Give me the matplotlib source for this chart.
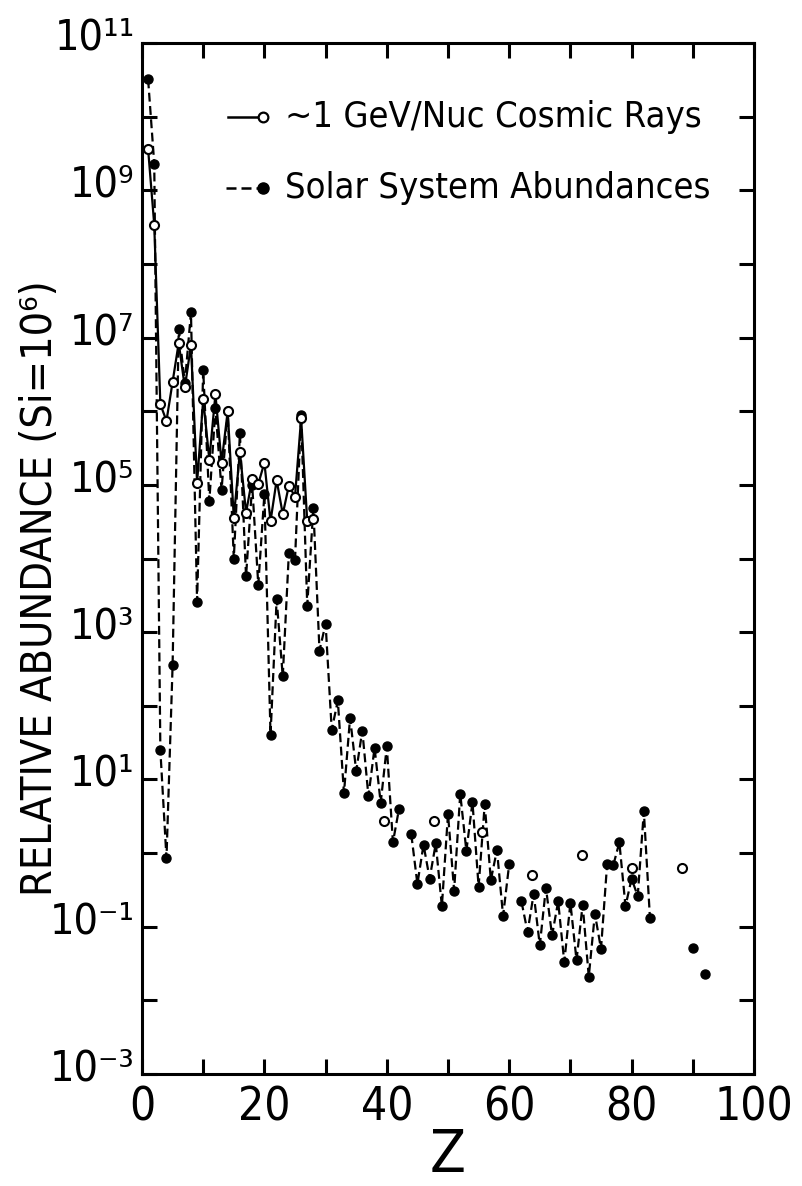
import numpy as np
import matplotlib
matplotlib.use("Agg")
import matplotlib.pyplot as plt
import matplotlib.transforms as mtransforms
from matplotlib.ticker import FixedLocator, NullFormatter

plt.rcParams["font.family"] = ["DejaVu Sans"]
plt.rcParams["font.stretch"] = "condensed"

# ---------------- data ----------------
# Solar system abundances (Si = 1e6), filled circles, dashed line
solar_z = [1, 2, 3, 4, 5, 6, 7, 8, 9, 10, 11, 12, 13, 14, 15, 16, 17, 18, 19, 20,
           21, 22, 23, 24, 25, 26, 27, 28, 29, 30, 31, 32, 33, 34, 35, 36, 37, 38, 39, 40,
           41, 42, 44, 45, 46, 47, 48, 49, 50, 51, 52, 53, 54, 55, 56, 57, 58, 59, 60,
           62, 63, 64, 65, 66, 67, 68, 69, 70, 71, 72, 73, 74, 75, 76, 77, 78, 79, 80,
           81, 82, 83, 90, 92]
solar_abund = [3.2e10, 2.3e9, 25, 0.85, 355, 1.3e7, 2.4e6, 2.2e7, 2.6e3, 3.6e6,
               6.0e4, 1.1e6, 8.5e4, 1.0e6, 1.0e4, 5.0e5, 5.7e3, 1.0e5, 4.4e3, 7.5e4,
               40, 2.8e3, 250, 1.2e4, 9.5e3, 8.9e5, 2.3e3, 4.8e4, 560, 1.3e3,
               47, 118, 6.5, 69, 13, 46, 5.9, 27, 4.8, 28,
               1.4, 4.0, 1.8, 0.38, 1.3, 0.45, 1.35, 0.19, 3.4, 0.31,
               6.4, 1.07, 4.9, 0.35, 4.6, 0.43, 1.1, 0.14, 0.71,
               0.22, 0.085, 0.28, 0.056, 0.34, 0.076, 0.22, 0.033, 0.21, 0.035,
               0.20, 0.021, 0.15, 0.05, 0.71, 0.68, 1.4, 0.19, 0.45,
               0.26, 3.7, 0.13, 0.051, 0.023]

# ~1 GeV/nucleon cosmic rays, open circles, solid line
cr_z = list(range(1, 29))
cr_abund = [3.6e9, 3.4e8, 1.24e6, 7.4e5, 2.5e6, 8.5e6, 2.1e6, 7.9e6, 1.07e5, 1.45e6,
            2.2e5, 1.7e6, 2.0e5, 1.0e6, 3.6e4, 2.8e5, 4.2e4, 1.2e5, 1.03e5, 2.0e5,
            3.2e4, 1.16e5, 4.0e4, 9.8e4, 6.9e4, 8.0e5, 3.2e4, 3.4e4]

# heavy cosmic-ray charge groups (isolated open circles)
cr_heavy_z = [39.5, 47.7, 55.6, 63.7, 71.9, 80.0, 88.2]
cr_heavy_abund = [2.7, 2.7, 1.96, 0.5, 0.95, 0.63, 0.62]

x_ticks = [0, 10, 20, 30, 40, 50, 60, 70, 80, 90, 100]
x_tick_labels = ["0", "", "20", "", "40", "", "60", "", "80", "", "100"]
y_exponents = [-3, -2, -1, 0, 1, 2, 3, 4, 5, 6, 7, 8, 9, 10, 11]
y_label_texts = {11: "10¹¹", 9: "10⁹", 7: "10⁷", 5: "10⁵", 3: "10³",
                 1: "10¹", -1: "10⁻¹", -3: "10⁻³"}

# ---------------- build series with gaps ----------------
def with_gaps(z, v):
    zz, vv = [], []
    for i, (a, b) in enumerate(zip(z, v)):
        if i > 0 and a - z[i - 1] > 1:
            zz.append(np.nan)
            vv.append(np.nan)
        zz.append(a)
        vv.append(b)
    return np.array(zz, float), np.array(vv, float)

sz, sv = with_gaps(solar_z, solar_abund)

# ---------------- figure ----------------
fig = plt.figure(figsize=(8.03, 11.86), dpi=100)
ax = fig.add_axes([142 / 803, 1 - 1074 / 1186, 612 / 803, 1031 / 1186])

ax.plot(sz, sv, ls=(0, (4, 2)), color="black", lw=1.6, marker="o", ms=6.5,
        mfc="black", mec="black", zorder=3)
ax.plot(cr_z, cr_abund, ls="-", color="black", lw=1.6, marker="o", ms=6.5,
        mfc="white", mec="black", mew=1.5, zorder=4)
ax.plot(cr_heavy_z, cr_heavy_abund, ls="none", marker="o", ms=6.5,
        mfc="white", mec="black", mew=1.5, zorder=4)

ax.set_yscale("log")
ax.set_xlim(0, 100)
ax.set_ylim(1e-3, 1e11)

ax.xaxis.set_major_locator(FixedLocator(x_ticks))
ax.set_xticklabels(x_tick_labels)
ax.yaxis.set_major_locator(FixedLocator([10.0 ** e for e in y_exponents]))
ax.yaxis.set_minor_locator(FixedLocator([]))
ax.yaxis.set_major_formatter(NullFormatter())
ax.tick_params(which="major", direction="in", length=11, width=2.2,
               top=True, right=True, labelsize=33, pad=8)

# y tick labels, lifted slightly as in the original lettering
ytrans = mtransforms.blended_transform_factory(ax.transAxes, ax.transData) + \
    mtransforms.ScaledTranslation(0, 4 / 72, fig.dpi_scale_trans)
for e in y_exponents:
    if e in y_label_texts:
        ax.text(-0.012, 10.0 ** e, y_label_texts[e], transform=ytrans,
                ha="right", va="center", fontsize=31)

for s in ax.spines.values():
    s.set_linewidth(2.2)

ax.set_xlabel("Z", fontsize=42, labelpad=-2)
fig.text(40 / 803, 1 - 588 / 1186, "RELATIVE ABUNDANCE (Si=10⁶)",
         rotation=90, fontsize=31, ha="center", va="center")

# legend (drawn manually in axes coordinates)
def axx(px):
    return (px - 142) / 612

def axy(py):
    return (1074 - py) / 1031

ax.plot([axx(228), axx(262)], [axy(117), axy(117)], transform=ax.transAxes,
        color="black", lw=1.8, clip_on=False)
ax.plot([axx(263)], [axy(117)], transform=ax.transAxes, marker="o", ms=7,
        mfc="white", mec="black", mew=1.6, ls="none")
ax.text(axx(285), axy(117), "~1 GeV/Nuc Cosmic Rays", transform=ax.transAxes,
        fontsize=26, va="center", ha="left")
ax.plot([axx(226), axx(262)], [axy(188), axy(188)], transform=ax.transAxes,
        color="black", lw=1.8, ls=(0, (4, 2)))
ax.plot([axx(263)], [axy(188)], transform=ax.transAxes, marker="o", ms=8,
        mfc="black", mec="black", ls="none")
ax.text(axx(285), axy(188), "Solar System Abundances", transform=ax.transAxes,
        fontsize=26, va="center", ha="left")

fig.savefig("out.png", dpi=100)
